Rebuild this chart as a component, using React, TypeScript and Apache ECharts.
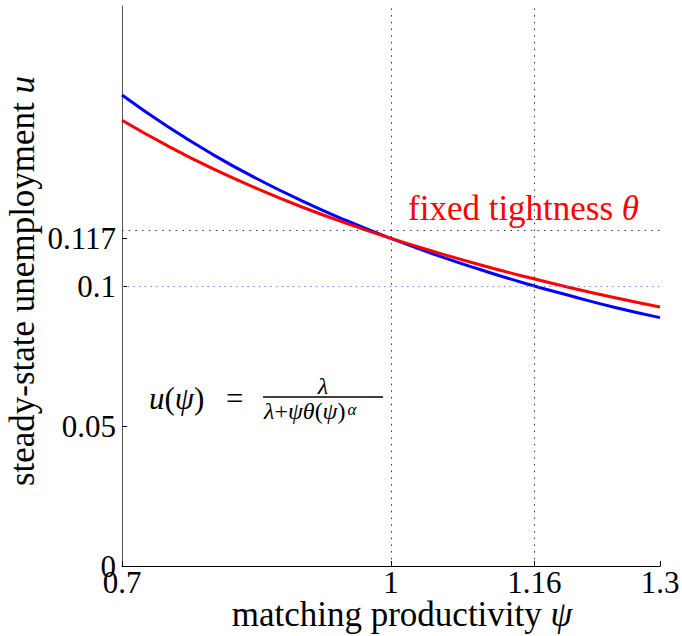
import React, { useEffect, useRef } from "react";
import * as echarts from "echarts";

const psi = [0.7, 0.75, 0.8, 0.85, 0.9, 0.95, 1.0, 1.05, 1.1, 1.15, 1.2, 1.25, 1.3];
const uVariable = [0.1682, 0.1571, 0.1472, 0.1384, 0.1305, 0.1234, 0.117, 0.1111, 0.1058, 0.1009, 0.0965, 0.0923, 0.0887];
const uFixed = [0.1592, 0.1502, 0.1421, 0.1349, 0.1283, 0.1224, 0.117, 0.1121, 0.1075, 0.1033, 0.0994, 0.0958, 0.0925];
const xTicks = [0.7, 1, 1.16, 1.3];
const yTicks = [0, 0.05, 0.1, 0.117];
const refX = [1, 1.16];
const refYBlack = 0.117;
const refYBlue = 0.1;

const FONT = "Liberation Serif";

type Part = [string, boolean];

let ctx: CanvasRenderingContext2D | null = null;
function measure(text: string, size: number, italic: boolean) {
  if (!ctx) ctx = document.createElement("canvas").getContext("2d");
  if (!ctx) return text.length * size * 0.5;
  ctx.font = `${italic ? "italic " : ""}${size}px "${FONT}"`;
  return ctx.measureText(text).width;
}

function piece(x: number, y: number, text: string, size: number, italic: boolean, fill?: string, rotation?: number) {
  const style: any = { text, fontFamily: FONT, fontSize: size };
  if (italic) style.fontStyle = "italic";
  if (fill) style.fill = fill;
  const el: any = { type: "text", x, y, style };
  if (rotation) el.rotation = rotation;
  return el;
}

function row(x0: number, top: number, parts: Part[], size: number, fill?: string) {
  let x = x0;
  return parts.map(([t, it]) => {
    const el = piece(x, top, t, size, it, fill);
    x += measure(t, size, it);
    return el;
  });
}

function width(parts: Part[], size: number) {
  return parts.reduce((s, [t, it]) => s + measure(t, size, it), 0);
}

export default function App() {
  const ref = useRef<HTMLDivElement>(null);
  useEffect(() => {
    if (!ref.current) return;
    const chart = echarts.init(ref.current, null, { renderer: "svg" });
    const dotted = { type: [1.5, 5.2] as any, width: 1, color: "#333" };

    const xTitle: Part[] = [["matching productivity ", false], ["ψ", true]];
    const yTitle: Part[] = [["steady-state unemployment ", false], ["u", true]];
    const redLabel: Part[] = [["fixed tightness ", false], ["θ", true]];
    const lhs: Part[] = [["u", true], ["(", false], ["ψ", true], [")", false]];
    const den: Part[] = [["λ", true], ["+", false], ["ψθ", true], ["(", false], ["ψ", true], [")", false]];

    const xW = width(xTitle, 35);
    const yW = width(yTitle, 35);
    let yCursor = 281 + yW / 2;
    const yEls = yTitle.map(([t, it]) => {
      const el = piece(5, yCursor, t, 35, it, undefined, Math.PI / 2);
      yCursor -= measure(t, 35, it);
      return el;
    });
    const denW = width(den, 24);
    const numW = measure("λ", 24, true);

    chart.setOption({
      animation: false,
      grid: { left: 122, right: 22, top: 6, bottom: 70, containLabel: false, outerBoundsMode: "none" },
      xAxis: {
        type: "value",
        min: 0.7,
        max: 1.3,
        splitLine: { show: false },
        axisLine: { lineStyle: { color: "#000", width: 1 } },
        axisTick: { inside: true, length: 5, customValues: xTicks, lineStyle: { color: "#000" } },
        axisLabel: {
          customValues: xTicks,
          formatter: (v: number) => String(v),
          fontFamily: FONT,
          fontSize: 31,
          color: "#000",
          margin: 1,
        },
      },
      yAxis: {
        type: "value",
        min: 0,
        max: 0.2,
        splitLine: { show: false },
        axisLine: { show: true, lineStyle: { color: "#555", width: 1 } },
        axisTick: { show: true, inside: true, length: 5, customValues: yTicks, lineStyle: { color: "#000" } },
        axisLabel: {
          customValues: yTicks,
          formatter: (v: number) => String(v),
          fontFamily: FONT,
          fontSize: 31,
          color: "#000",
          margin: 6,
        },
      },
      series: [
        {
          type: "line",
          data: psi.map((p, i) => [p, uVariable[i]]),
          smooth: true,
          symbol: "none",
          lineStyle: { color: "#0000ff", width: 3 },
          markLine: {
            silent: true,
            symbol: "none",
            label: { show: false },
            lineStyle: dotted,
            data: [
              ...refX.map((x) => ({ xAxis: x })),
              { yAxis: refYBlack },
              { yAxis: refYBlue, lineStyle: { type: [1.5, 4.2], width: 1, color: "#7a7aff" } },
            ],
          },
          z: 2,
        },
        {
          type: "line",
          data: psi.map((p, i) => [p, uFixed[i]]),
          smooth: true,
          symbol: "none",
          lineStyle: { color: "#ff0000", width: 3 },
          z: 3,
        },
      ],
      graphic: [
        ...row(402 - xW / 2, 597, xTitle, 35),
        ...yEls,
        ...row(408, 191, redLabel, 35, "#ff0000"),
        ...row(149, 383, lhs, 31),
        piece(226, 383, "=", 31, false),
        piece(323 - numW / 2, 374, "λ", 24, true),
        ...row(264, 399, den, 24),
        piece(264 + denW + 2, 401, "α", 17, true),
        {
          type: "line",
          shape: { x1: 263, y1: 397, x2: 383, y2: 397 },
          style: { stroke: "#000", lineWidth: 1.3 },
        },
      ],
    });
    return () => chart.dispose();
  }, []);
  return <div ref={ref} style={{ position: "absolute", left: 0, top: 0, width: 682, height: 636 }} />;
}
